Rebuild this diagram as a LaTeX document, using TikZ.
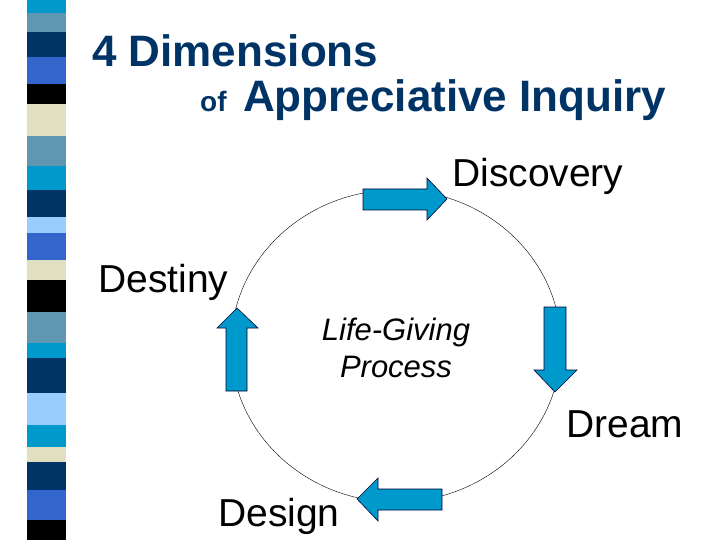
\documentclass[tikz,border=0pt]{standalone}
\usepackage{fontspec}
\setmainfont{Liberation Sans}
\definecolor{titleblue}{HTML}{003366}
\definecolor{arrowfill}{HTML}{0099CC}
\definecolor{sCyan}{HTML}{0099CC}
\definecolor{sGray}{HTML}{5F96B0}
\definecolor{sNavy}{HTML}{003366}
\definecolor{sRoyal}{HTML}{3366CC}
\definecolor{sBeige}{HTML}{E0E0C0}
\definecolor{sLight}{HTML}{99CCFF}
\begin{document}
\begin{tikzpicture}[x=1pt,y=-1pt,
  blockarrow/.style={fill=arrowfill,draw=black!80!blue,line width=0.6pt,line join=miter},
  lbl/.style={font=\fontsize{39}{39}\selectfont,anchor=base west,inner sep=0pt}]
\useasboundingbox (0,0) rectangle (720,540);
% stripes
\foreach \ya/\yb/\c in {0/13/sCyan,13/32/sGray,32/57/sNavy,57/84/sRoyal,84/104/black,104/136/sBeige,136/166/sGray,166/190/sCyan,190/217/sNavy,217/233/sLight,233/260/sRoyal,260/280/sBeige,280/312/black,312/343/sGray,343/358/sCyan,358/393/sNavy,393/425/sLight,425/447/sCyan,447/462/sBeige,462/490/sNavy,490/520/sRoyal,520/540/black}
  \fill[\c] (27,\ya) rectangle (66,\yb);
% title
\node[anchor=base west,inner sep=0pt,text=titleblue,font=\bfseries\fontsize{44}{44}\selectfont] (t1) at (92,67) {4 Dimensions};
\node[anchor=base west,inner sep=0pt,text=titleblue,font=\bfseries\fontsize{28}{28}\selectfont] (t2) at (200,112) {of};
\node[anchor=base west,inner sep=0pt,text=titleblue,font=\bfseries\fontsize{44}{44}\selectfont] (t3) at (243,112) {Appreciative Inquiry};
% cycle
\draw[line width=0.4pt] (396,346) ellipse [x radius=165, y radius=156];
\node (center) at (396,346) {};
% arrows
\draw[blockarrow] (363,189) -- (427,189) -- (427,178) -- (447,199) -- (427,220) -- (427,210) -- (363,210) -- cycle;
\draw[blockarrow] (544,307) -- (566,307) -- (566,370) -- (577,370) -- (555,392) -- (534,370) -- (544,370) -- cycle;
\draw[blockarrow] (442,489) -- (378,489) -- (378,478) -- (357,499) -- (378,521) -- (378,510) -- (442,510) -- cycle;
\draw[blockarrow] (226,391) -- (226,328) -- (217,328) -- (237,308) -- (258,328) -- (247,328) -- (247,391) -- cycle;
% labels
\node[lbl] (disc) at (452,187) {Discovery};
\node[lbl] (dream) at (566,437) {Dream};
\node[lbl] (design) at (218,526) {Design};
\node[lbl] (dest) at (98,292) {Destiny};
\node[align=center,font=\itshape\fontsize{31}{37}\selectfont,inner sep=0pt] (proc) at (396,348) {Life-Giving\\Process};
\end{tikzpicture}
\end{document}
